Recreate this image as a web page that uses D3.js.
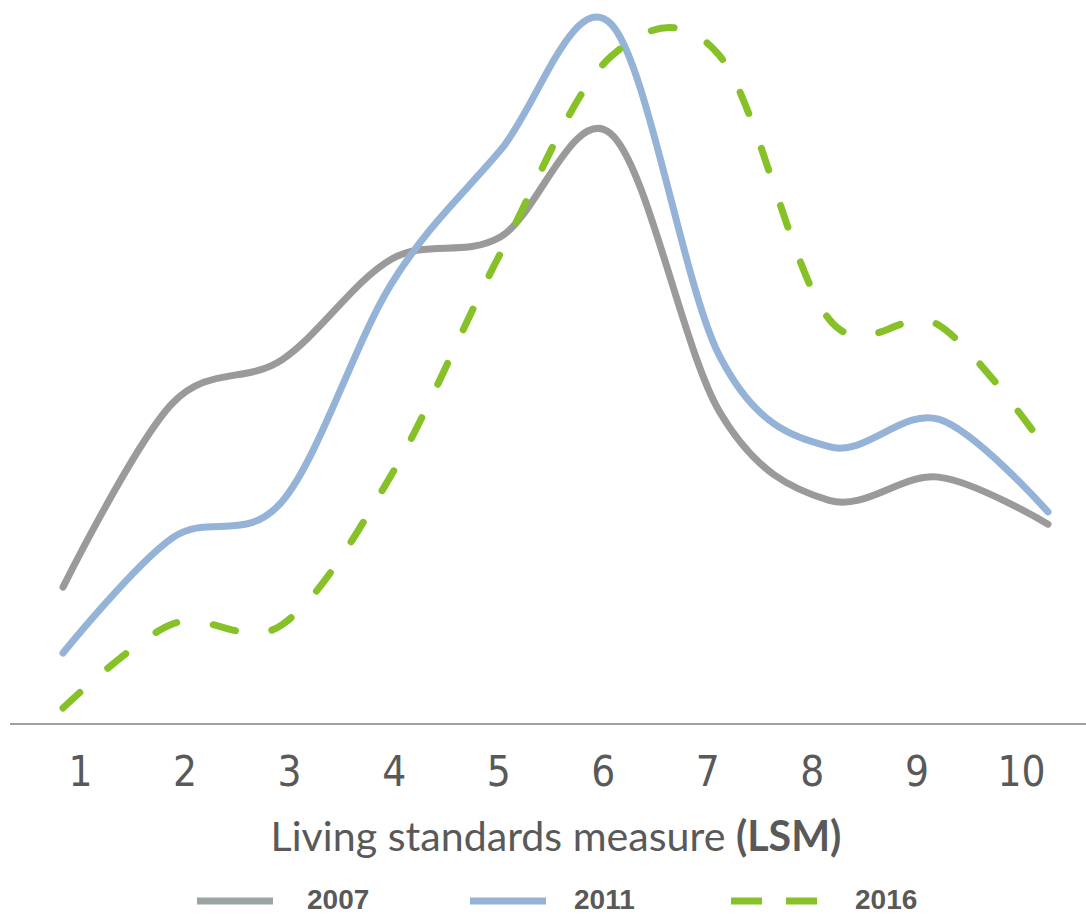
<!DOCTYPE html>
<html><head><meta charset="utf-8">
<script src="https://cdn.jsdelivr.net/npm/d3@7"></script>
<style>html,body{margin:0;padding:0;background:#fff;}svg{display:block;}</style>
</head><body>
<svg id="chart" width="1086" height="916"></svg>
<script>
const categories = [1,2,3,4,5,6,7,8,9,10];
const tickLabels = ["1","2","3","4","5","6","7","8","9","10"];
const series2007 = [18.9, 44.3, 50.3, 64.2, 67.3, 81.6, 43.1, 30.9, 34.1, 27.6];
const series2011 = [9.8, 25.7, 30.7, 60.8, 79.3, 96.8, 50.8, 38.3, 42.1, 29.3];
const series2016 = [2.2, 13.8, 13.7, 34.4, 65.1, 92.1, 92.3, 55.9, 55.1, 37.6];
const seriesNames = ["2007","2011","2016"];
const axisTitle = "Living standards measure ";
const axisTitleBold = "(LSM)";

const svg = d3.select("#chart");
const x = d3.scaleLinear().domain([1,10]).range([63,1048]);
const xLab = d3.scalePoint().domain(tickLabels).range([80,1021]);
const y = d3.scaleLinear().domain([0,100]).range([724,0]);

// axis line
const xAxis = d3.axisBottom(xLab).tickSize(0).tickPadding(0);
const gAx = svg.append("g").attr("transform","translate(0,724)").call(xAxis);
gAx.select(".domain").remove();
gAx.append("line").attr("x1",10).attr("x2",1086).attr("y1",0).attr("y2",0)
  .attr("stroke","#a0a0a0").attr("stroke-width",2);
gAx.selectAll(".tick text")
  .attr("y",62).attr("dy",0)
  .attr("font-family","'Liberation Sans Narrow','DejaVu Sans Condensed',sans-serif")
  .attr("font-size",42).attr("fill","#595959");

const line = d3.line().x((d,i)=>x(categories[i])).y(d=>y(d)).curve(d3.curveCardinal.tension(0));

const styles = [
  {data:series2007, color:"#9a9a9a", dash:null},
  {data:series2011, color:"#95b3d7", dash:null},
  {data:series2016, color:"#86c128", dash:"23,37"}
];
styles.forEach(s=>{
  const p = svg.append("path").datum(s.data).attr("d",line)
    .attr("fill","none").attr("stroke",s.color).attr("stroke-width",7)
    .attr("stroke-linecap","round").attr("stroke-linejoin","round");
  if(s.dash) p.attr("stroke-dasharray",s.dash);
});

// axis title
const t = svg.append("text").attr("x",556).attr("y",851).attr("text-anchor","middle")
  .attr("font-family","Lato, 'Open Sans', sans-serif").attr("font-size",34).attr("fill","#595959");
t.append("tspan").text(axisTitle);
t.append("tspan").attr("font-weight","bold").text(axisTitleBold);
const w = t.node().getComputedTextLength();
t.attr("font-size", 34*571/w);

// legend
const legendColors = ["#9aa4a4","#95b3d7","#86c128"];
const legendX = [197, 470, 731];
const legendW = [76, 76, 86];
const legendTextX = [307, 574, 855];
seriesNames.forEach((n,i)=>{
  const g = svg.append("g");
  const ln = g.append("line").attr("x1",legendX[i]).attr("x2",legendX[i]+legendW[i])
    .attr("y1",901).attr("y2",901).attr("stroke",legendColors[i]).attr("stroke-width",7);
  if(i===2) ln.attr("stroke-dasharray","31,24");
  g.append("text").attr("x",legendTextX[i]).attr("y",909)
    .attr("font-family","'Liberation Sans',Arial,sans-serif").attr("font-weight","bold")
    .attr("font-size",28).attr("fill","#595959").text(n);
});
</script>
</body></html>
